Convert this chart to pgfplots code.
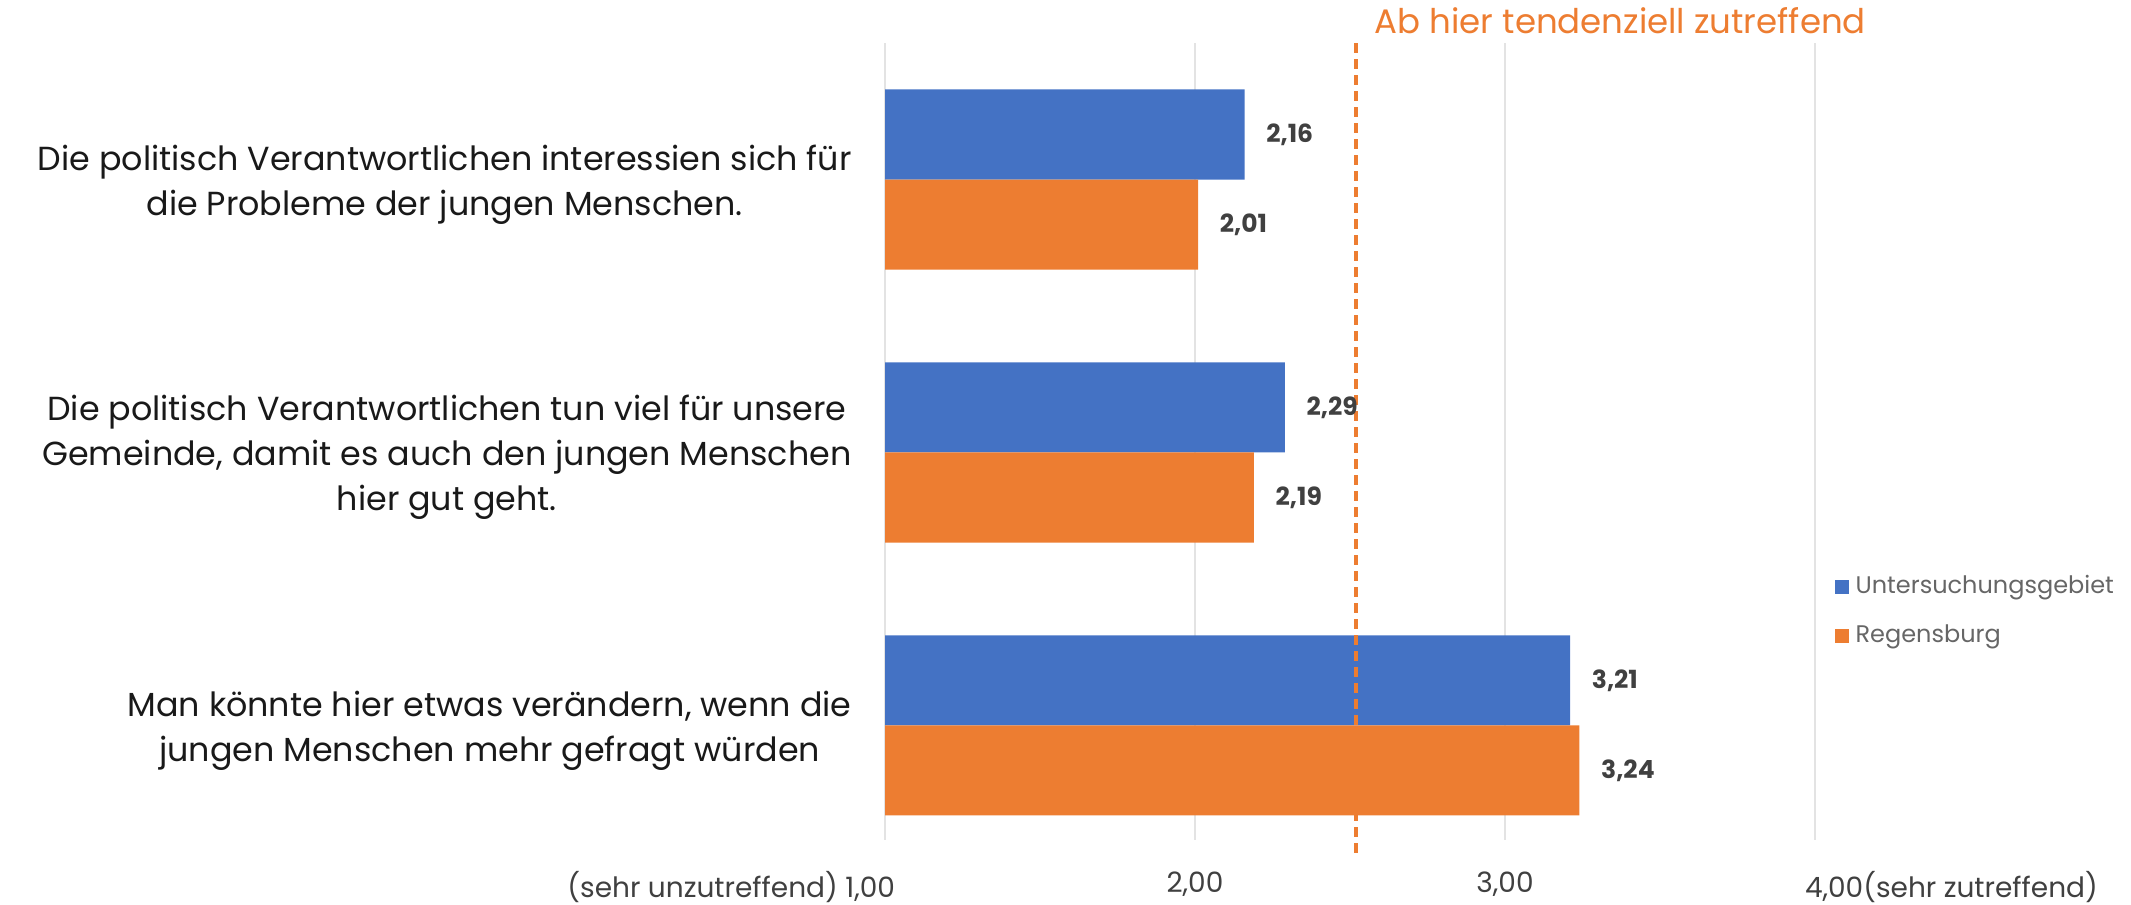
\documentclass[border=0pt]{standalone}
\usepackage{pgfplots}
\pgfplotsset{compat=1.18}
\usepackage{fontspec}
\setmainfont{Poppins}
\definecolor{cblue}{HTML}{4472C4}
\definecolor{corange}{HTML}{ED7D31}
\definecolor{ctext}{HTML}{404040}
\definecolor{cgrid}{HTML}{E3E3E3}
\begin{document}
\begin{tikzpicture}
\useasboundingbox (0,0) rectangle (639.3pt,-271.2pt);
\begin{axis}[
  at={(265.5pt,-252pt)}, anchor=south west,
  scale only axis, width=279pt, height=239.1pt,
  xmin=1, xmax=4, ymin=-0.5, ymax=2.42,
  y dir=reverse,
  xbar, bar width=0.33,
  axis line style={draw=none},
  xtick={1,2,3,4},
  xticklabels={{\makebox[6pt][r]{(sehr unzutreffend) 1,00}},{2,00},{3,00},{\makebox[6pt][l]{4,00(sehr zutreffend)}}},
  xmajorgrids, grid style={cgrid, line width=0.6pt},
  x tick style={cgrid, line width=0.6pt},
  major tick length=4pt,
  xticklabel style={font=\fontsize{8.4}{10}\selectfont, text=ctext, yshift=-6pt},
  ytick={0,1,2},
  y tick style={draw=none},
  yticklabels={{Die politisch Verantwortlichen interessien sich für\\die Probleme der jungen Menschen.},
               {Die politisch Verantwortlichen tun viel für unsere\\Gemeinde, damit es auch den jungen Menschen\\hier gut geht.},
               {Man könnte hier etwas verändern, wenn die\\jungen Menschen mehr gefragt würden}},
  yticklabel style={align=center, font=\fontsize{10}{13.5}\selectfont, text=black!90, xshift=-2.5pt, yshift=-1.5pt},
  /pgf/number format/assume math mode=true,
  nodes near coords={\pgfmathprintnumber[fixed,fixed zerofill,precision=2,use comma]{\pgfplotspointmeta}},
  nodes near coords style={font=\bfseries\fontsize{7.5}{9}\selectfont, text=ctext, xshift=3pt},
  legend style={at={(1.01,0.287)}, anchor=west, draw=none, fill=none,
    font=\fontsize{7.2}{9}\selectfont, text=ctext!80, row sep=4pt},
  legend cell align=left,
  legend image code/.code={\fill[#1,draw=none] (0pt,-2.1pt) rectangle (4.2pt,2.1pt);},
  clip=false,
]
\addplot[fill=cblue, draw=none, bar shift=-0.165] coordinates {(2.16,0) (2.29,1) (3.21,2)};
\addplot[fill=corange, draw=none, bar shift=0.165] coordinates {(2.01,0) (2.19,1) (3.24,2)};
\legend{Untersuchungsgebiet, Regensburg}
\draw[corange, line width=1.2pt, dash pattern=on 3pt off 1.8pt] (axis cs:2.52,-0.5) -- (axis cs:2.52,2.48);
\end{axis}
\node[anchor=base west, inner sep=0pt, text=corange, font=\fontsize{10.2}{12}\selectfont] at (412.2pt,-9.9pt) {Ab hier tendenziell zutreffend};
\end{tikzpicture}
\end{document}
